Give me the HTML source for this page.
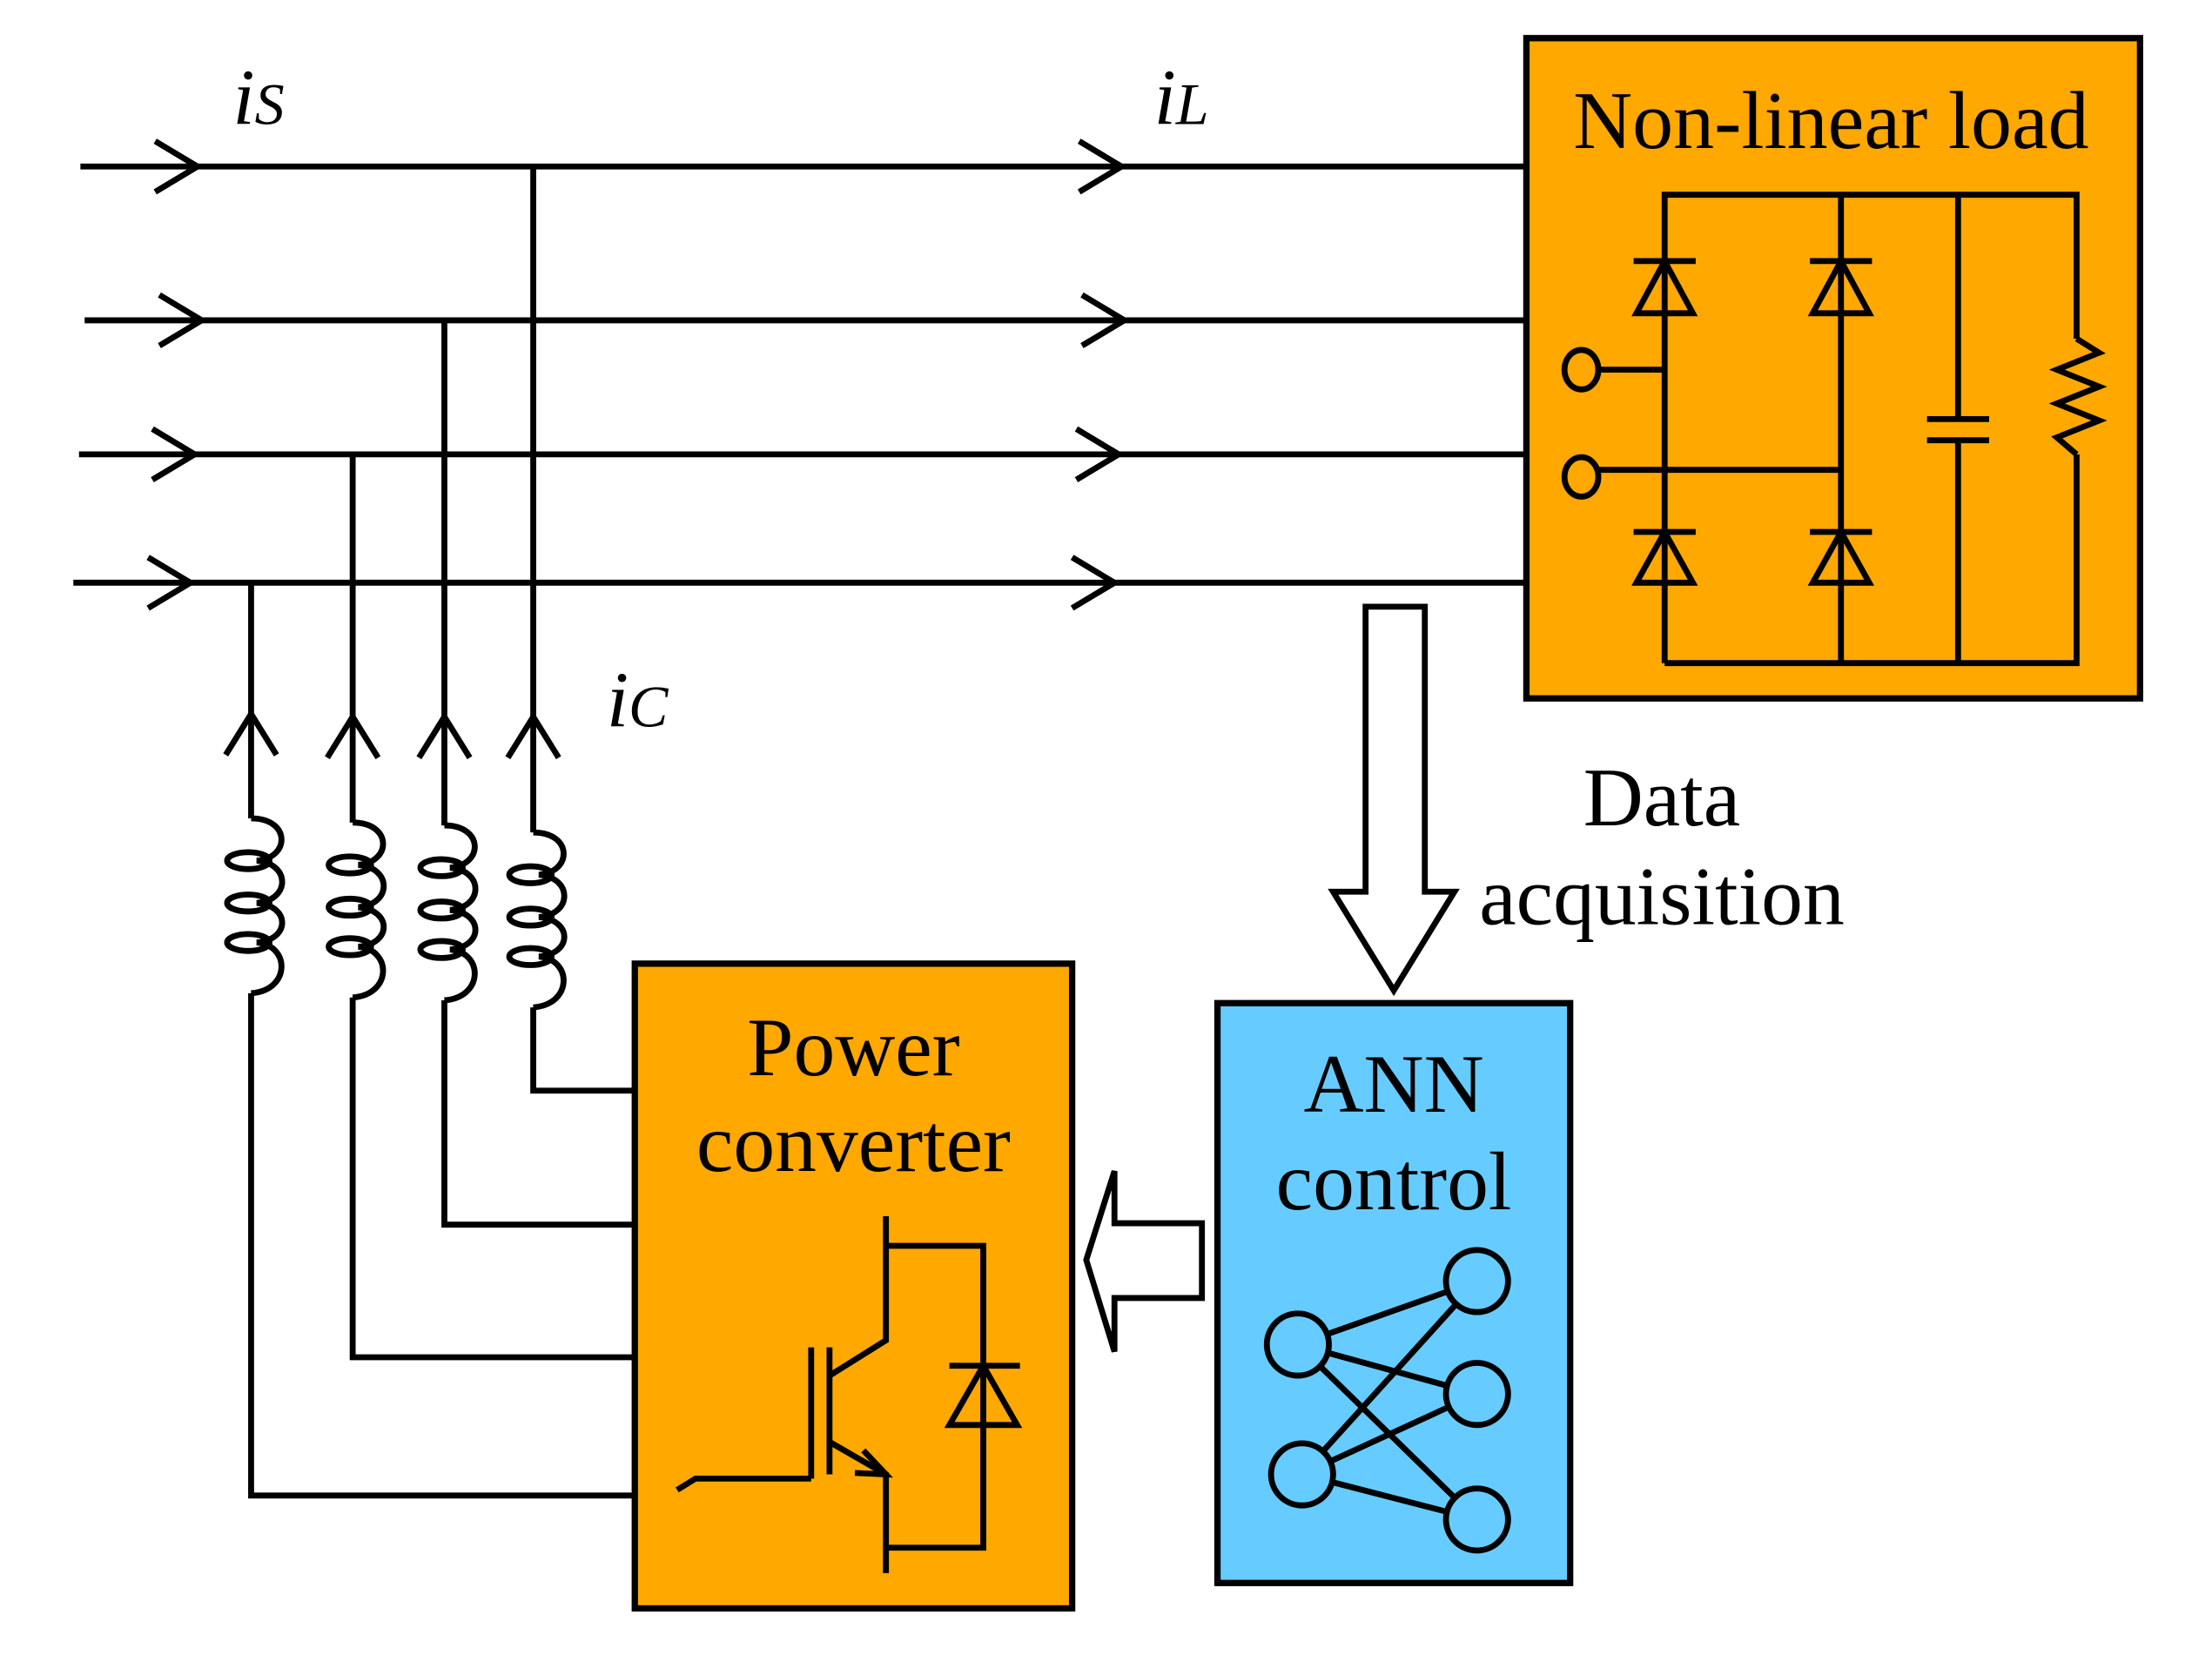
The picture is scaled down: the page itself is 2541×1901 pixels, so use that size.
<!DOCTYPE html>
<html><head><meta charset="utf-8"><style>html,body{margin:0;padding:0;background:#fff}svg{display:block}</style></head>
<body>
<svg width="2541" height="1901" viewBox="0 0 1568 1173" xmlns="http://www.w3.org/2000/svg">
<g stroke="#000" stroke-width="4.2" fill="none" stroke-linecap="butt">
<line x1="57" y1="118" x2="1082" y2="118"/>
<line x1="60" y1="227" x2="1082" y2="227"/>
<line x1="56" y1="322" x2="1082" y2="322"/>
<line x1="52" y1="413" x2="1082" y2="413"/>
<polyline points="110,100 140,118 110,136"/><polyline points="765,100 795,118 765,136"/>
<polyline points="113,209 143,227 113,245"/><polyline points="767,209 797,227 767,245"/>
<polyline points="108,304 138,322 108,340"/><polyline points="763,304 793,322 763,340"/>
<polyline points="105,395 135,413 105,431"/><polyline points="760,395 790,413 760,431"/>
<line x1="378" y1="118" x2="378" y2="590"/>
<line x1="315" y1="227" x2="315" y2="585"/>
<line x1="250" y1="322" x2="250" y2="583"/>
<line x1="178" y1="413" x2="178" y2="580"/>
<polyline points="360,537 378,508 396,537"/>
<polyline points="297,537 315,508 333,537"/>
<polyline points="232,537 250,508 268,537"/>
<polyline points="160,535 178,506 196,535"/>
<g>
<path d="M178,580 C206,580 206,608 182,610 C206,612 206,638 182,640 C206,642 206,666 182,668 C206,670 206,702 178,704"/>
<ellipse cx="176" cy="610" rx="15" ry="6"/><ellipse cx="176" cy="640" rx="15" ry="6"/><ellipse cx="176" cy="668" rx="15" ry="6"/>
</g>
<g transform="translate(72,3)"><path d="M178,580 C206,580 206,608 182,610 C206,612 206,638 182,640 C206,642 206,666 182,668 C206,670 206,702 178,704"/>
<ellipse cx="176" cy="610" rx="15" ry="6"/><ellipse cx="176" cy="640" rx="15" ry="6"/><ellipse cx="176" cy="668" rx="15" ry="6"/></g>
<g transform="translate(137,5)"><path d="M178,580 C206,580 206,608 182,610 C206,612 206,638 182,640 C206,642 206,666 182,668 C206,670 206,702 178,704"/>
<ellipse cx="176" cy="610" rx="15" ry="6"/><ellipse cx="176" cy="640" rx="15" ry="6"/><ellipse cx="176" cy="668" rx="15" ry="6"/></g>
<g transform="translate(200,10)"><path d="M178,580 C206,580 206,608 182,610 C206,612 206,638 182,640 C206,642 206,666 182,668 C206,670 206,702 178,704"/>
<ellipse cx="176" cy="610" rx="15" ry="6"/><ellipse cx="176" cy="640" rx="15" ry="6"/><ellipse cx="176" cy="668" rx="15" ry="6"/></g>
<polyline points="378,714 378,773 449,773"/>
<polyline points="315,709 315,868 449,868"/>
<polyline points="250,707 250,962 449,962"/>
<polyline points="178,704 178,1060 449,1060"/>
</g>
<rect x="450" y="683" width="310" height="457" fill="#FFA800" stroke="#000" stroke-width="4.5"/>
<g stroke="#000" stroke-width="4.2" fill="none">
<polyline points="480,1056 493,1048 575,1048"/>
<line x1="575" y1="955" x2="575" y2="1048"/>
<line x1="588" y1="955" x2="588" y2="1045"/>
<polyline points="588,975 628,950 628,862"/>
<polyline points="628,883 697,883 697,1097 628,1097"/>
<polyline points="588,1022 628,1045 628,1115"/>
<polyline points="612,1028 628,1045 606,1044"/>
<polygon points="697,968 673,1010 721,1010"/>
<line x1="673" y1="968" x2="723" y2="968"/>
</g>
<rect x="863" y="711" width="250" height="411" fill="#66CCFF" stroke="#000" stroke-width="4.5"/>
<g stroke="#000" stroke-width="4.2" fill="none">
<line x1="920" y1="953" x2="1047" y2="908"/><line x1="920" y1="953" x2="1047" y2="988"/><line x1="920" y1="953" x2="1047" y2="1077"/>
<line x1="923" y1="1045" x2="1047" y2="908"/><line x1="923" y1="1045" x2="1047" y2="988"/><line x1="923" y1="1045" x2="1047" y2="1077"/>
<g fill="#66CCFF">
<circle cx="920" cy="953" r="22"/><circle cx="923" cy="1045" r="22"/>
<circle cx="1047" cy="908" r="22"/><circle cx="1047" cy="988" r="22"/><circle cx="1047" cy="1077" r="22"/>
</g>
<polygon points="852,867 852,920 790,920 790,958 770,893 790,830 790,867" fill="#fff"/>
<polygon points="968,430 1010,430 1010,632 1031,632 988,702 945,632 968,632" fill="#fff"/>
</g>
<rect x="1082" y="27" width="435" height="468" fill="#FFA800" stroke="#000" stroke-width="4.5"/>
<g stroke="#000" stroke-width="4.2" fill="none">
<polyline points="1180,470 1180,138 1472,138 1472,240"/>
<polyline points="1305,138 1305,470"/>
<polyline points="1180,470 1472,470 1472,322"/>
<line x1="1388" y1="138" x2="1388" y2="297"/><line x1="1388" y1="312" x2="1388" y2="470"/>
<line x1="1366" y1="297" x2="1410" y2="297"/><line x1="1366" y1="312" x2="1410" y2="312"/>
<polyline points="1472,240 1488,250 1458,262 1488,274 1458,286 1488,298 1458,310 1472,322"/>
<line x1="1133" y1="262" x2="1180" y2="262"/><line x1="1133" y1="333" x2="1305" y2="333"/>
<ellipse cx="1121" cy="262" rx="12" ry="14"/><ellipse cx="1121" cy="338" rx="12" ry="14"/>
<polygon points="1180,185 1160,222 1200,222"/><line x1="1158" y1="185" x2="1202" y2="185"/>
<polygon points="1305,185 1285,222 1325,222"/><line x1="1283" y1="185" x2="1327" y2="185"/>
<polygon points="1180,377 1160,413 1200,413"/><line x1="1158" y1="377" x2="1202" y2="377"/>
<polygon points="1305,377 1285,413 1325,413"/><line x1="1283" y1="377" x2="1327" y2="377"/>
</g>
<g font-family="'Liberation Serif',serif" font-size="59" text-anchor="middle" fill="#000">
<text x="605" y="762">Power</text><text x="605" y="830">converter</text>
<text x="988" y="788">ANN</text><text x="988" y="857">control</text>
<text x="1298" y="105" font-size="58">Non-linear load</text>
<text x="1178" y="585">Data</text><text x="1178" y="655">acquisition</text>
</g>
<g font-family="'Liberation Serif',serif" font-style="italic" fill="#000">
<text x="165" y="88" font-size="56">i<tspan font-size="42">S</tspan></text>
<text x="818" y="88" font-size="56">i<tspan font-size="42">L</tspan></text>
<text x="430" y="515" font-size="56">i<tspan font-size="42">C</tspan></text>
</g>
</svg>
</body></html>
